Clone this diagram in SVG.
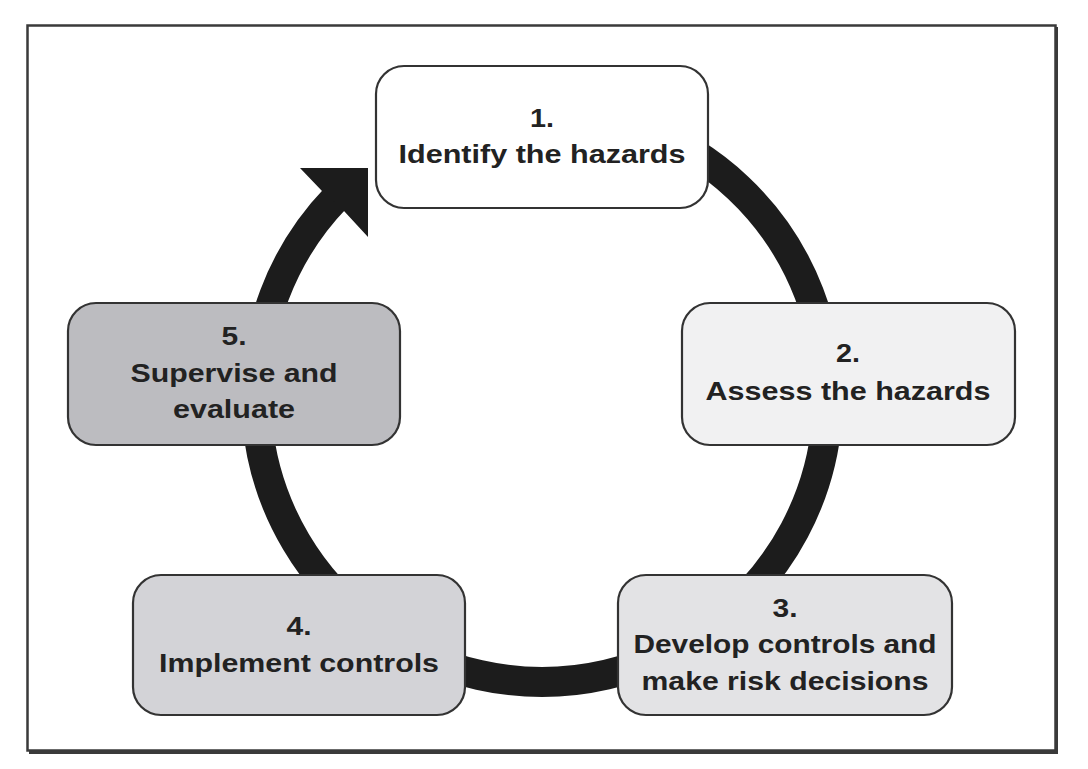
<svg xmlns="http://www.w3.org/2000/svg" width="1088" height="769" viewBox="0 0 1088 769">
<style>
.box{stroke:#333;stroke-width:2.2}
.t{font-family:"Liberation Sans",Arial,sans-serif;font-weight:bold;font-size:26px;fill:#222;text-anchor:middle}
.ring{fill:none;stroke:#1c1c1c;stroke-width:30}
</style>
<rect x="0" y="0" width="1088" height="769" fill="#fff"/>
<rect x="27.5" y="25.5" width="1028" height="725" fill="#fff" stroke="#3a3a3a" stroke-width="2.5"/>
<path d="M29 752.5 H1056.5 V27" fill="none" stroke="#3a3a3a" stroke-width="3"/>
<g id="connectors">
<path class="ring" d="M639.8 127.2 A286 286 0 1 1 336.3 197.3"/>
<polygon points="300,168 368,168 368,237 344,211 322,191" fill="#1c1c1c"/>
</g>
<g id="node1">
<rect class="box" x="376" y="66" width="332" height="142" rx="28" fill="#ffffff"/>
<text class="t" x="542" y="127" textLength="24" lengthAdjust="spacingAndGlyphs">1.</text>
<text class="t" x="542" y="163" textLength="287" lengthAdjust="spacingAndGlyphs">Identify the hazards</text>
</g>
<g id="node2">
<rect class="box" x="682" y="303" width="333" height="142" rx="28" fill="#f1f1f2"/>
<text class="t" x="848" y="362" textLength="24" lengthAdjust="spacingAndGlyphs">2.</text>
<text class="t" x="848" y="400" textLength="285" lengthAdjust="spacingAndGlyphs">Assess the hazards</text>
</g>
<g id="node3">
<rect class="box" x="618" y="575" width="334" height="140" rx="28" fill="#e3e3e5"/>
<text class="t" x="785" y="617" textLength="25" lengthAdjust="spacingAndGlyphs">3.</text>
<text class="t" x="785" y="653" textLength="303" lengthAdjust="spacingAndGlyphs">Develop controls and</text>
<text class="t" x="785" y="690" textLength="287" lengthAdjust="spacingAndGlyphs">make risk decisions</text>
</g>
<g id="node4">
<rect class="box" x="133" y="575" width="332" height="140" rx="28" fill="#d3d3d7"/>
<text class="t" x="299" y="635" textLength="25" lengthAdjust="spacingAndGlyphs">4.</text>
<text class="t" x="299" y="672" textLength="280" lengthAdjust="spacingAndGlyphs">Implement controls</text>
</g>
<g id="node5">
<rect class="box" x="68" y="303" width="332" height="142" rx="28" fill="#bcbcc0"/>
<text class="t" x="234" y="345" textLength="25" lengthAdjust="spacingAndGlyphs">5.</text>
<text class="t" x="234" y="382" textLength="207" lengthAdjust="spacingAndGlyphs">Supervise and</text>
<text class="t" x="234" y="418" textLength="122" lengthAdjust="spacingAndGlyphs">evaluate</text>
</g>
</svg>
